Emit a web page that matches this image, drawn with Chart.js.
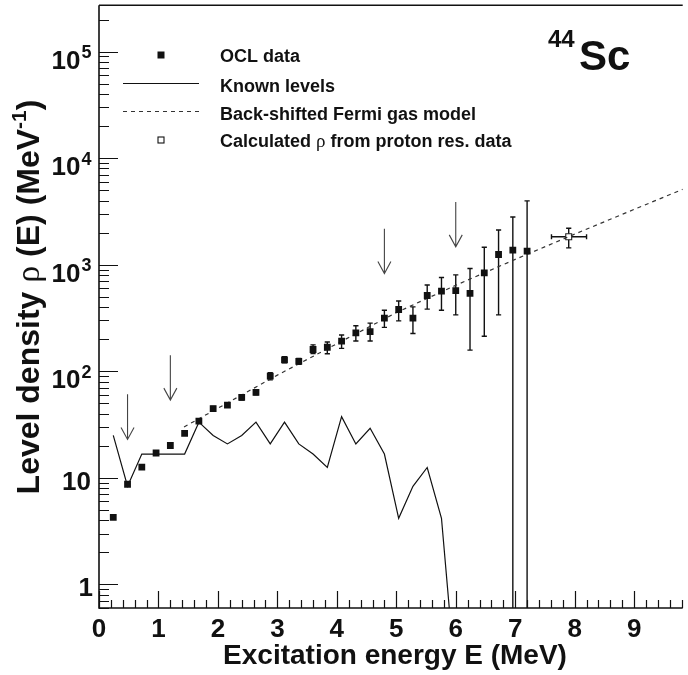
<!DOCTYPE html>
<html><head><meta charset="utf-8">
<script src="https://cdn.jsdelivr.net/npm/chart.js@4.4.1/dist/chart.umd.min.js"></script>
<style>html,body{margin:0;padding:0;background:#fff;}#wrap{width:688px;height:675px;position:relative;}</style>
</head><body><div id="wrap"><canvas id="c" width="688" height="675"></canvas></div>
<script>
// ---- data ----
const oclE    = [0.24,0.48,0.72,0.96,1.20,1.44,1.68,1.92,2.16,2.40,2.64,2.88,3.12,3.36,3.60,3.84,4.08,4.32,4.56,4.80,5.04,5.28,5.52,5.76,6.00,6.24,6.48,6.72,6.96,7.20];
const oclRho  = [4.25,8.7,12.6,17.1,20.1,26.1,34.0,44.6,48.2,56.8,63.5,90,128,124,160,168,192,229,236,315,380,315,514,564,572,537,838,1247,1368,1340];
const oclLow  = [4.1,8.4,12.1,16.4,19.2,25.0,32.5,42.5,45.8,53.8,60.0,83,120,116,147,146,164,192,192,258,297,226,383,374,338,158,213,338,0,0];
const oclHigh = [4.4,9.0,13.1,17.8,21.0,27.2,35.5,46.7,50.6,59.8,67.0,97,137,132,177,188,219,267,283,374,457,402,646,759,802,921,1459,2120,2808,3970];

const knownE   = [0.24,0.48,0.72,0.96,1.20,1.44,1.68,1.92,2.16,2.40,2.64,2.88,3.12,3.36,3.60,3.84,4.08,4.32,4.56,4.80,5.04,5.28,5.52,5.76,6.00];
const knownRho = [25,8.33,16.7,16.7,16.7,16.7,33.3,25,20.8,25,33.3,20.8,33.3,20.8,16.7,12.5,37.5,20.8,29.2,16.7,4.17,8.33,12.5,4.17,0.12];

const bsfgE   = [1.43,2.0,3.0,4.0,5.0,6.0,7.0,8.0,9.0,9.82];
const bsfgRho = [30,45,92,181,355,641,1122,1936,3304,5105];

const protonE = [7.90], protonRho = [1830];
const protonELow = [7.61], protonEHigh = [8.20];
const protonRhoLow = [1440], protonRhoHigh = [2200];

const arrowE    = [0.48,1.20,4.80,6.00];
const arrowFrom = [61,141,2170,3880];
const arrowTo   = [22.9,53.6,827,1470];

const xTickValues = [0,1,2,3,4,5,6,7,8,9];
const xTickLabels = ['0','1','2','3','4','5','6','7','8','9'];
const yTickValues = [1,10,100,1000,10000,100000];
const yTickBase   = ['1','10','10','10','10','10'];
const yTickExp    = ['','','2','3','4','5'];

const legendLabels = ['OCL data','Known levels','Back-shifted Fermi gas model','Calculated \u03C1 from proton res. data'];
const xTitle = 'Excitation energy E (MeV)';
const yTitleRuns = ['Level density ','\u03C1',' (E) (MeV','-1',')'];
const nucleusA = '44', nucleusSym = 'Sc';

// ---- drawing ----
const SANS = "'Liberation Sans', Arial, Helvetica, sans-serif";
const SERIF = "'Liberation Serif', 'Times New Roman', serif";

function pts(xs, ys){ return xs.map((x,i)=>({x:x, y:ys[i]})); }

const errorBars = {
  id:'errorBars',
  beforeDatasetsDraw(chart){
    const {ctx, chartArea:a, scales:{x, y}} = chart;
    ctx.save();
    ctx.beginPath(); ctx.rect(a.left, a.top, a.right-a.left, a.bottom-a.top); ctx.clip();
    ctx.strokeStyle = '#111'; ctx.lineWidth = 1.4;
    const cap = 2.6;
    oclE.forEach((e,i)=>{
      const px = x.getPixelForValue(e);
      const pHi = y.getPixelForValue(oclHigh[i]);
      const pLo = oclLow[i] > 0 ? y.getPixelForValue(oclLow[i]) : a.bottom;
      ctx.beginPath(); ctx.moveTo(px, pLo); ctx.lineTo(px, pHi); ctx.stroke();
      ctx.beginPath(); ctx.moveTo(px-cap, pHi); ctx.lineTo(px+cap, pHi);
      if (oclLow[i] > 0){ ctx.moveTo(px-cap, pLo); ctx.lineTo(px+cap, pLo); }
      ctx.stroke();
    });
    protonE.forEach((e,i)=>{
      const px = x.getPixelForValue(e), py = y.getPixelForValue(protonRho[i]);
      const x1 = x.getPixelForValue(protonELow[i]), x2 = x.getPixelForValue(protonEHigh[i]);
      const y1 = y.getPixelForValue(protonRhoHigh[i]), y2 = y.getPixelForValue(protonRhoLow[i]);
      ctx.beginPath();
      ctx.moveTo(x1, py); ctx.lineTo(px-3, py); ctx.moveTo(px+3, py); ctx.lineTo(x2, py);
      ctx.moveTo(px, y1); ctx.lineTo(px, py-3); ctx.moveTo(px, py+3); ctx.lineTo(px, y2);
      ctx.moveTo(x1, py-cap); ctx.lineTo(x1, py+cap); ctx.moveTo(x2, py-cap); ctx.lineTo(x2, py+cap);
      ctx.moveTo(px-cap, y1); ctx.lineTo(px+cap, y1); ctx.moveTo(px-cap, y2); ctx.lineTo(px+cap, y2);
      ctx.stroke();
    });
    ctx.restore();
  }
};

const arrows = {
  id:'arrows',
  afterDatasetsDraw(chart){
    const {ctx, scales:{x, y}} = chart;
    ctx.save(); ctx.strokeStyle = '#444'; ctx.lineWidth = 1.1;
    arrowE.forEach((e,i)=>{
      const px = x.getPixelForValue(e), p1 = y.getPixelForValue(arrowFrom[i]), p2 = y.getPixelForValue(arrowTo[i]);
      ctx.beginPath(); ctx.moveTo(px, p1); ctx.lineTo(px, p2);
      ctx.moveTo(px-6.5, p2-12); ctx.lineTo(px, p2); ctx.lineTo(px+6.5, p2-12); ctx.stroke();
    });
    ctx.restore();
  }
};

function runsWidth(ctx, runs){ let w=0; runs.forEach(r=>{ctx.font=r.f; w+=ctx.measureText(r.t).width;}); return w; }
function drawRuns(ctx, runs, x0, y0){
  let xx = x0;
  runs.forEach(r=>{ ctx.font=r.f; ctx.fillText(r.t, xx, y0 + (r.dy||0)); xx += ctx.measureText(r.t).width; });
}

const frame = {
  id:'frame',
  afterDraw(chart){
    const {ctx, chartArea:a, scales:{x, y}} = chart;
    ctx.save();
    ctx.strokeStyle = '#111'; ctx.fillStyle = '#111';
    // axes lines
    ctx.lineWidth = 1.6;
    ctx.beginPath();
    ctx.moveTo(a.left, a.top); ctx.lineTo(a.left, a.bottom); ctx.lineTo(a.right, a.bottom);
    ctx.moveTo(a.left, a.top); ctx.lineTo(a.right, a.top);
    ctx.stroke();
    // y ticks
    ctx.lineWidth = 1.2;
    ctx.beginPath();
    for (let n=-1; n<=5; n++){
      for (let m=1; m<=9; m++){
        const v = m*Math.pow(10,n);
        if (v < y.min || v > y.max) continue;
        const py = Math.round(y.getPixelForValue(v))+0.5;
        const len = (m===1) ? 19 : 10;
        ctx.moveTo(a.left, py); ctx.lineTo(a.left+len, py);
      }
    }
    // x ticks
    for (let k=0; k*0.2 <= x.max+1e-9; k++){
      const v = k*0.2;
      const px = Math.round(x.getPixelForValue(v))+0.5;
      const len = (k%5===0) ? 17 : 8;
      ctx.moveTo(px, a.bottom); ctx.lineTo(px, a.bottom-len);
    }
    ctx.stroke();
    // x tick labels
    ctx.font = 'bold 26px '+SANS; ctx.textAlign='center'; ctx.textBaseline='alphabetic';
    xTickValues.forEach((v,i)=>{ ctx.fillText(xTickLabels[i], x.getPixelForValue(v), 637); });
    // y tick labels
    yTickValues.forEach((v,i)=>{
      const py = y.getPixelForValue(v);
      if (!yTickExp[i]){
        ctx.font='bold 26px '+SANS; ctx.textAlign='right';
        ctx.fillText(yTickBase[i], i===0 ? 93 : 91, py+12);
      } else {
        ctx.font='bold 26px '+SANS; ctx.textAlign='right';
        ctx.fillText(yTickBase[i], 80.5, py+17);
        ctx.font='bold 18px '+SANS; ctx.textAlign='left';
        ctx.fillText(yTickExp[i], 81.5, py+6.5);
      }
    });
    // x title
    ctx.font = 'bold 28px '+SANS; ctx.textAlign='center';
    ctx.fillText(xTitle, 395, 664);
    // y title
    ctx.save();
    ctx.translate(39, 297); ctx.rotate(-Math.PI/2); ctx.textAlign='left';
    const yr = [
      {t:yTitleRuns[0], f:'bold 32px '+SANS},
      {t:yTitleRuns[1], f:'34px '+SERIF},
      {t:yTitleRuns[2], f:'bold 32px '+SANS},
      {t:yTitleRuns[3], f:'bold 21px '+SANS, dy:-13},
      {t:yTitleRuns[4], f:'bold 32px '+SANS}
    ];
    drawRuns(ctx, yr, -runsWidth(ctx, yr)/2, 0);
    ctx.restore();
    // nucleus label
    ctx.textAlign='left';
    ctx.font='bold 24px '+SANS; ctx.fillText(nucleusA, 548, 47);
    ctx.font='bold 42px '+SANS; ctx.fillText(nucleusSym, 579, 70);
    // legend
    const rows = [55, 83.5, 111.5, 140];
    const lx = 161;
    ctx.fillRect(lx-3.5, rows[0]-3.5, 7, 7);
    ctx.lineWidth = 1.2;
    ctx.beginPath(); ctx.moveTo(123, rows[1]); ctx.lineTo(199, rows[1]); ctx.stroke();
    ctx.save(); ctx.setLineDash([4,4]); ctx.lineWidth=1.1; ctx.strokeStyle='#333';
    ctx.beginPath(); ctx.moveTo(123, rows[2]); ctx.lineTo(199, rows[2]); ctx.stroke(); ctx.restore();
    ctx.lineWidth = 1.1; ctx.strokeRect(lx-3, rows[3]-3, 6, 6);
    const LF = 'bold 18px '+SANS;
    ctx.font = LF;
    ctx.fillText(legendLabels[0], 220, rows[0]+7);
    ctx.fillText(legendLabels[1], 220, rows[1]+8);
    ctx.fillText(legendLabels[2], 220, rows[2]+8);
    const parts = legendLabels[3].split('\u03C1');
    drawRuns(ctx, [{t:parts[0], f:LF},{t:'\u03C1', f:'19px '+SERIF},{t:parts[1], f:LF}], 220, rows[3]+7);
    ctx.restore();
  }
};

new Chart(document.getElementById('c'), {
  type:'scatter',
  data:{ datasets:[
    { label:legendLabels[0], data:pts(oclE, oclRho), showLine:false, pointStyle:'rect', pointRadius:4.8, pointHoverRadius:4.8,
      backgroundColor:'#111', borderColor:'#111', borderWidth:0 },
    { label:legendLabels[3], data:pts(protonE, protonRho), showLine:false, pointStyle:'rect', pointRadius:4.2,
      backgroundColor:'rgba(0,0,0,0)', borderColor:'#222', borderWidth:1.1 },
    { label:legendLabels[2], data:pts(bsfgE, bsfgRho), showLine:true, borderDash:[4,4], borderColor:'#333', borderWidth:1.2,
      pointRadius:0, tension:0 },
    { label:legendLabels[1], data:pts(knownE, knownRho), showLine:true, borderColor:'#111', borderWidth:1.2,
      pointRadius:0, tension:0 }
  ]},
  options:{
    responsive:false, animation:false, devicePixelRatio:1,
    layout:{ padding:{ left:99, top:5, right:0, bottom:67 } },
    plugins:{ legend:{display:false}, tooltip:{enabled:false} },
    scales:{
      x:{ type:'linear', min:0, max:9.817, display:false },
      y:{ type:'logarithmic', min:0.6, max:2.72e5, display:false }
    }
  },
  plugins:[errorBars, arrows, frame]
});
</script>
</body></html>
